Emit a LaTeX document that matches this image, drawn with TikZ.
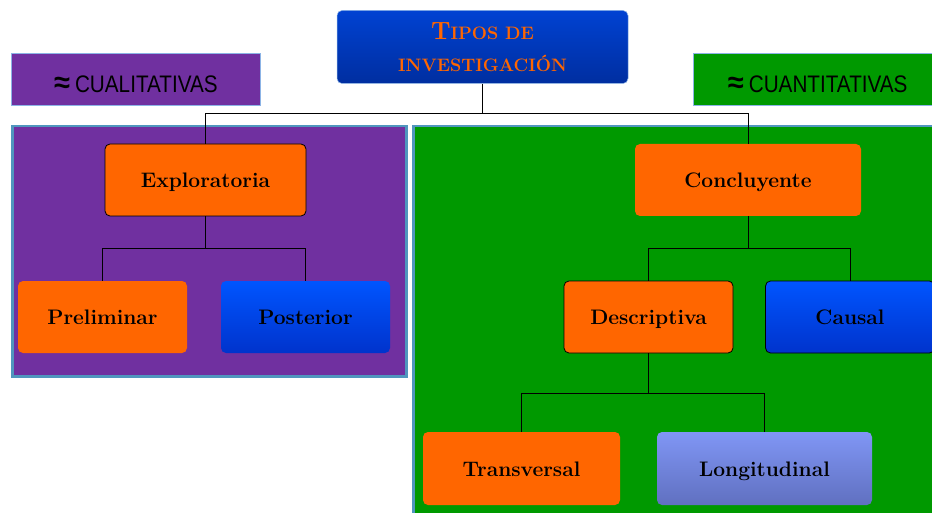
\documentclass[tikz,border=0pt]{standalone}
\usepackage{fontspec}
\usepackage{graphicx}
\newfontfamily\rotulo{Liberation Sans}
\usetikzlibrary{positioning}

\definecolor{naranja}{RGB}{255,102,0}
\definecolor{morado}{RGB}{112,48,160}
\definecolor{verde}{RGB}{0,153,0}
\definecolor{marco}{RGB}{80,150,190}
\definecolor{celeste}{RGB}{140,180,230}

\newcommand{\enfoque}[1]{{\fontsize{29}{26}\selectfont\bfseries ≈}\hspace{5pt}\scalebox{0.9}[1.04]{#1}}

\tikzset{
    panel/.style={draw=marco, line width=2.5pt, inner sep=0pt, anchor=north west},
    etiqueta/.style={draw=celeste, line width=0.8pt, inner sep=0pt, anchor=north west,
        minimum height=52pt, text height=27pt, text depth=0pt, font=\rotulo\fontsize{23}{26}\selectfont},
    caja/.style={rounded corners=5pt, inner sep=0pt, minimum width=169pt, minimum height=72pt,
        text height=15pt, text depth=0pt, font=\fontsize{21}{24}\selectfont\bfseries, text=black},
    naranja/.style={caja, fill=naranja},
    azul/.style={caja, top color={rgb,255:red,0;green,85;blue,255}, bottom color={rgb,255:red,0;green,51;blue,204}},
    lila/.style={caja, top color={rgb,255:red,128;green,150;blue,245}, bottom color={rgb,255:red,96;green,112;blue,192}},
    con borde/.style={draw=black, line width=0.8pt},
    rama/.style={draw=black, line width=0.8pt}
}

\begin{document}
\begin{tikzpicture}[x=1pt,y=-1pt]
    \useasboundingbox (0,0) rectangle (932,513);

    % fondos de cada enfoque
    \node(izq)[panel, fill=morado, minimum width=394pt, minimum height=250pt] at (11,125) {};
    \node(der)[panel, fill=verde, minimum width=540pt, minimum height=410pt] at (412,125) {};

    \node(cuali)[etiqueta, fill=morado, minimum width=249pt] at (11,53) {\enfoque{CUALITATIVAS}};
    \node(cuanti)[etiqueta, fill=verde, minimum width=260pt, text width=239pt, align=left] at (693,53)
        {\hspace*{24pt}\enfoque{CUANTITATIVAS}};

    % titulo
    \node(tipos)[caja, minimum width=291pt, minimum height=73pt, align=center, text=naranja,
        text height=, text depth=,
        top color={rgb,255:red,0;green,66;blue,210}, bottom color={rgb,255:red,0;green,46;blue,160},
        draw=celeste, line width=0.5pt, font=\bfseries\fontsize{18}{32}\selectfont]
        at (482.5,47) {{\fontsize{25}{32}\selectfont T}IPOS DE\\INVESTIGACI\'ON};

    % cualitativas
    \node(explo)[naranja, con borde, minimum width=201pt] at (205.5,180) {Exploratoria};
    \node(prelim)[naranja] at (102.5,317) {Preliminar};
    \node(poste)[azul] at (305.5,317) {Posterior};

    % cuantitativas
    \node(concl)[naranja, minimum width=226pt] at (748,180) {Concluyente};
    \node(descr)[naranja, con borde] at (648.5,317) {Descriptiva};
    \node(causal)[azul, con borde] at (850,317) {Causal};
    \node(trans)[naranja, minimum width=197pt, minimum height=73pt] at (521.5,468.5) {Transversal};
    \node(longi)[lila, minimum width=215pt, minimum height=73pt] at (764.5,468.5) {Longitudinal};

    % conectores
    \path[rama] (tipos.south) -- ++(0,30) coordinate(n0);
    \draw[rama] (n0) -| (explo.north);
    \draw[rama] (n0) -| (concl.north);

    \path[rama] (explo.south) -- ++(0,32) coordinate(n1);
    \draw[rama] (n1) -| (prelim.north);
    \draw[rama] (n1) -| (poste.north);

    \path[rama] (concl.south) -- ++(0,32) coordinate(n2);
    \draw[rama] (n2) -| (descr.north);
    \draw[rama] (n2) -| (causal.north);

    \path[rama] (descr.south) -- ++(0,40) coordinate(n3);
    \draw[rama] (n3) -| (trans.north);
    \draw[rama] (n3) -| (longi.north);

\end{tikzpicture}
\end{document}
